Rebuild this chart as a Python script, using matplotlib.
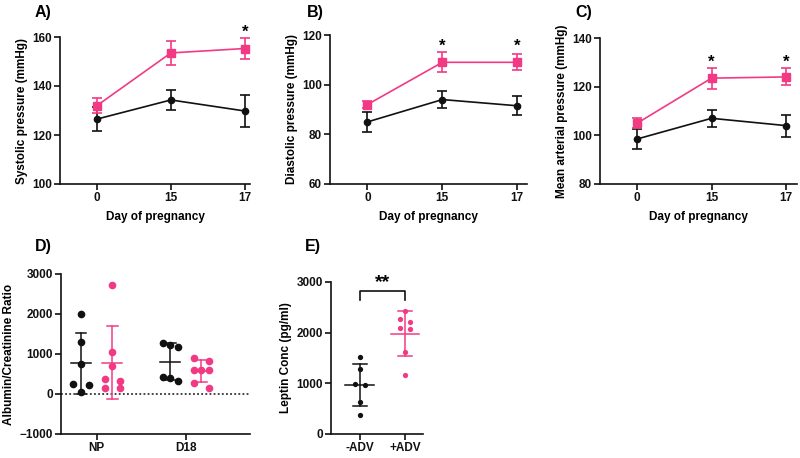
import numpy as np
import matplotlib
matplotlib.use("Agg")
import matplotlib.pyplot as plt

plt.rcParams["font.family"] = ["Liberation Sans", "DejaVu Sans"]
plt.rcParams["font.weight"] = "bold"
plt.rcParams["axes.labelweight"] = "bold"

PINK = "#F23A84"
BLACK = "#111111"

# ---- top row: blood pressure over pregnancy ----
days = ["0", "15", "17"]

sys_ctrl = [126.5, 134.3, 129.8]
sys_ctrl_err = [5.0, 4.0, 6.7]
sys_adv = [132.0, 153.5, 155.3]
sys_adv_err = [3.0, 5.0, 4.3]

dia_ctrl = [85.0, 94.0, 91.5]
dia_ctrl_err = [4.0, 3.4, 3.8]
dia_adv = [92.0, 109.0, 109.0]
dia_adv_err = [1.5, 4.0, 3.2]

map_ctrl = [98.5, 107.0, 104.0]
map_ctrl_err = [4.0, 3.6, 4.5]
map_adv = [105.0, 123.5, 124.0]
map_adv_err = [2.0, 4.3, 3.5]

# ---- bottom row ----
acr_groups = ["NP", "D18"]
acr_np_ctrl = [2000, 1300, 750, 250, 230, 50]
acr_np_adv = [2720, 1050, 700, 380, 320, 140, 140]
acr_d18_ctrl = [1270, 1230, 1180, 420, 400, 330]
acr_d18_adv = [900, 830, 600, 600, 600, 280, 140]

leptin_groups = ["-ADV", "+ADV"]
leptin_ctrl = [1520, 1280, 990, 960, 640, 380]
leptin_adv = [2430, 2260, 2210, 2090, 2080, 1620, 1160]

FS = 8.5
W, H = 800.0, 458.0


def rect(l, r, t, b):
    return [l / W, 1 - b / H, (r - l) / W, (b - t) / H]


def style_axes(ax):
    for s in ["top", "right"]:
        ax.spines[s].set_visible(False)
    for s in ["left", "bottom"]:
        ax.spines[s].set_linewidth(1.2)
        ax.spines[s].set_color(BLACK)
    ax.tick_params(width=1.2, length=4, labelsize=FS, colors=BLACK, pad=2)
    for lab in ax.get_xticklabels() + ax.get_yticklabels():
        lab.set_fontweight("bold")


def panel_letter(x, y, letter):
    fig.text(x / W, 1 - y / H, letter, fontsize=11.5, fontweight="bold", ha="left", va="center")


def line_panel(rect_, ctrl, ctrl_err, adv, adv_err, ylim, yticks, ylabel, xlim, stars, star_y):
    ax = fig.add_axes(rect_)
    x = np.arange(len(days))
    ax.errorbar(x, ctrl, yerr=ctrl_err, color=BLACK, marker="o", ms=4.5, lw=1.2,
                capsize=3.5, elinewidth=1.2, capthick=1.2, clip_on=False, zorder=3)
    ax.errorbar(x, adv, yerr=adv_err, color=PINK, marker="s", ms=6, lw=1.2,
                capsize=3.5, elinewidth=1.2, capthick=1.2, clip_on=False, zorder=4)
    for i in stars:
        ax.text(x[i], star_y, "*", ha="center", va="center", fontsize=12, fontweight="bold")
    ax.set_xlim(*xlim)
    ax.set_ylim(*ylim)
    ax.set_yticks(yticks)
    ax.set_xticks(x)
    ax.set_xticklabels(days)
    ax.set_ylabel(ylabel, fontsize=FS, labelpad=3)
    ax.set_xlabel("Day of pregnancy", fontsize=FS, labelpad=5)
    style_axes(ax)
    return ax


def row_offsets(ax, vals, thresh_px, step):
    # group points of similar value into rows, spread each row sideways
    px = ax.transData.transform(np.column_stack([np.zeros(len(vals)), vals]))[:, 1]
    order = list(np.argsort(vals)[::-1])
    rows = [[order[0]]]
    for i in order[1:]:
        if abs(px[rows[-1][-1]] - px[i]) < thresh_px:
            rows[-1].append(i)
        else:
            rows.append([i])
    offs = np.zeros(len(vals))
    for r in rows:
        n = len(r)
        if n == 2:
            slots = [-1, 1]
        else:
            slots = [k - (n - 1) / 2 for k in range(n)]
        for i, s in zip(r, slots):
            offs[i] = s * step
    return offs


def dot_group(ax, xc, vals, color, ms, thresh_px, step, mean_w, cap_w):
    vals = np.array(vals, dtype=float)
    offs = row_offsets(ax, vals, thresh_px, step)
    ax.plot(xc + offs, vals, "o", color=color, ms=ms, mec="none", zorder=3, clip_on=False)
    m = vals.mean()
    sd = vals.std(ddof=1)
    ax.plot([xc - mean_w / 2, xc + mean_w / 2], [m, m], color=color, lw=1.1, zorder=4)
    ax.plot([xc, xc], [m - sd, m + sd], color=color, lw=1.1, zorder=4)
    for y in (m - sd, m + sd):
        ax.plot([xc - cap_w / 2, xc + cap_w / 2], [y, y], color=color, lw=1.1, zorder=4)


fig = plt.figure(figsize=(8, 4.58), dpi=100)

line_panel(rect(60, 250, 37, 184), sys_ctrl, sys_ctrl_err, sys_adv, sys_adv_err,
           (100, 160), [100, 120, 140, 160], "Systolic pressure (mmHg)", (-0.5, 2.07),
           [2], 162)
line_panel(rect(330, 527, 35, 184), dia_ctrl, dia_ctrl_err, dia_adv, dia_adv_err,
           (60, 120), [60, 80, 100, 120], "Diastolic pressure (mmHg)", (-0.5, 2.13),
           [1, 2], 115.5)
line_panel(rect(600, 797, 38, 184), map_ctrl, map_ctrl_err, map_adv, map_adv_err,
           (80, 140), [80, 100, 120, 140], "Mean arterial pressure (mmHg)", (-0.5, 2.15),
           [1, 2], 130)

# ---- D ----
axd = fig.add_axes(rect(61, 250, 274, 434))
axd.set_xlim(-0.4, 1.72)
axd.set_ylim(-1000, 3000)
axd.axhline(0, color=BLACK, lw=1.1, ls=(0, (1.2, 1.5)), zorder=1)
off = 0.175
for xc, vals, col in [(-off, acr_np_ctrl, BLACK), (off, acr_np_adv, PINK),
                      (1 - off, acr_d18_ctrl, BLACK), (1 + off, acr_d18_adv, PINK)]:
    dot_group(axd, xc, vals, col, 5.5, 6.5, 0.086, 0.22, 0.12)
axd.set_xticks([0, 1])
axd.set_xticklabels(acr_groups)
axd.set_yticks([-1000, 0, 1000, 2000, 3000])
axd.set_ylabel("Albumin/Creatinine Ratio", fontsize=FS, labelpad=3)
style_axes(axd)

# ---- E ----
axe = fig.add_axes(rect(331, 423, 282, 434))
axe.set_xlim(-0.64, 1.4)
axe.set_ylim(0, 3000)
for xc, vals, col in [(0, leptin_ctrl, BLACK), (1, leptin_adv, PINK)]:
    dot_group(axe, xc, vals, col, 3.8, 4.5, 0.104, 0.64, 0.31)
axe.plot([0, 0, 1, 1], [2640, 2820, 2820, 2640], color=BLACK, lw=1.2, clip_on=False)
axe.text(0.5, 2990, "**", ha="center", va="center", fontsize=14, fontweight="bold")
axe.set_xticks([0, 1])
axe.set_xticklabels(leptin_groups)
axe.set_yticks([0, 1000, 2000, 3000])
axe.set_ylabel("Leptin Conc (pg/ml)", fontsize=FS, labelpad=3)
style_axes(axe)

panel_letter(35, 12, "A)")
panel_letter(307, 12, "B)")
panel_letter(575, 12, "C)")
panel_letter(35, 246, "D)")
panel_letter(305, 246, "E)")

fig.savefig("out.png", dpi=100)
